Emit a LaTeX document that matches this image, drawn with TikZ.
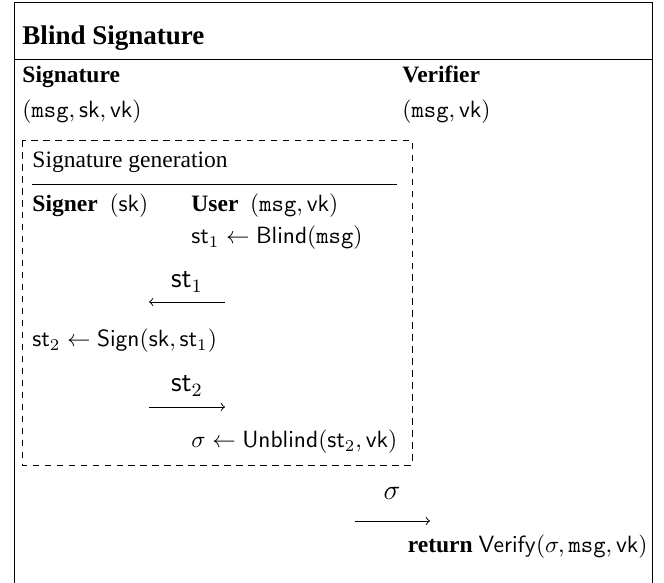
\documentclass[tikz,border=0pt]{standalone}
\usepackage[no-math]{fontspec}
\setmainfont{Liberation Serif}
\usepackage{amsmath}

\begin{document}
\begin{tikzpicture}[x=0.4255pt,y=-0.4255pt]
		\tikzstyle{every node}+=[inner sep=0pt,anchor=base west]
		\tikzstyle{msgarrow}=[black,->]
		\tikzstyle{msglabel}=[anchor=base,font=\large]
		\tikzstyle{genbox}=[black,dash pattern=on 2.8pt off 2.3pt]
		\useasboundingbox (0,0) rectangle (664,583);
		\coordinate (fbl) at (14,583);
		\coordinate (ftl) at (14,2);
		\coordinate (ftr) at (652,2);
		\coordinate (fbr) at (652,583);
		\draw [black] (fbl) -- (ftl) -- (ftr) -- (fbr);
		\coordinate (hl) at (14,59);
		\coordinate (hr) at (652,59);
		\draw [black] (hl) -- (hr);
		\node (title) at (22,45) {\fontsize{11.5}{14}\selectfont\bfseries Blind Signature};
		\node (sig) at (22,83) {\bfseries Signature};
		\node (ver) at (402,83) {\bfseries Verifier};
		\node (siginp) at (22,118) {$(\mathtt{msg},\mathsf{sk},\mathsf{vk})$};
		\node (verinp) at (402,118) {$(\mathtt{msg},\mathsf{vk})$};
		\coordinate (gtl) at (22,140);
		\coordinate (gbr) at (412,465);
		\draw [genbox] (gtl) rectangle (gbr);
		\node (gen) at (32,168) {Signature generation};
		\coordinate (gl) at (32,184);
		\coordinate (gr) at (397,184);
		\draw [black] (gl) -- (gr);
		\node (signer) at (32,212) {\textbf{Signer}\ \ $(\mathsf{sk})$};
		\node (user) at (191,212) {\textbf{User}\ \ $(\mathtt{msg},\mathsf{vk})$};
		\node (blind) at (191,244) {$\mathsf{st}_1\leftarrow\mathsf{Blind}(\mathtt{msg})$};
		\coordinate (m1a) at (225,302);
		\coordinate (m1b) at (149,302);
		\draw [msgarrow] (m1a) -- (m1b);
		\node (m1) [msglabel] at (187,288) {$\mathsf{st}_1$};
		\node (sign) at (32,347) {$\mathsf{st}_2\leftarrow\mathsf{Sign}(\mathsf{sk},\mathsf{st}_1)$};
		\coordinate (m2a) at (149,407);
		\coordinate (m2b) at (225,407);
		\draw [msgarrow] (m2a) -- (m2b);
		\node (m2) [msglabel] at (187,392) {$\mathsf{st}_2$};
		\node (unblind) at (191,448) {$\sigma\leftarrow\mathsf{Unblind}(\mathsf{st}_2,\mathsf{vk})$};
		\coordinate (m3a) at (355,521);
		\coordinate (m3b) at (430,521);
		\draw [msgarrow] (m3a) -- (m3b);
		\node (m3) [msglabel] at (392,500) {$\sigma$};
		\node (verify) [anchor=base east] at (648,553) {\textbf{return}\ $\mathsf{Verify}(\sigma,\mathtt{msg},\mathsf{vk})$};
	\end{tikzpicture}
\end{document}
